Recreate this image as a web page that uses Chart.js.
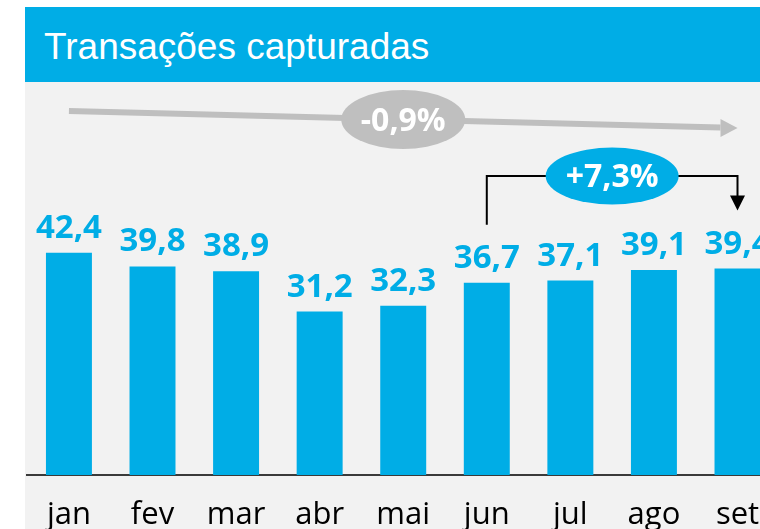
<!DOCTYPE html>
<html>
<head>
<meta charset="utf-8">
<script src="https://cdn.jsdelivr.net/npm/chart.js@4.4.0/dist/chart.umd.min.js"></script>
<style>
  body { margin: 0; background: #fff; width: 760px; height: 529px; overflow: hidden; position: relative; }
  .header { position: absolute; left: 25px; top: 7px; width: 735px; height: 75px; background: #00ade6; }
  .header h1 { margin: 0; position: absolute; left: 19px; top: 21px; line-height: 37px; font-size: 37px; font-weight: normal; color: #fff; font-family: "Liberation Sans", Arial, sans-serif; white-space: nowrap; }
  .plot { position: absolute; left: 25px; top: 82px; width: 735px; height: 447px; overflow: hidden; background: #f2f2f2; }
</style>
</head>
<body>
<div class="header"><h1>Transações capturadas</h1></div>
<div class="plot"><canvas id="bar-chart" width="756" height="447"></canvas></div>
<script>
const months = ["jan", "fev", "mar", "abr", "mai", "jun", "jul", "ago", "set"];
const transactions = [42.4, 39.8, 38.9, 31.2, 32.3, 36.7, 37.1, 39.1, 39.4];
const yMax = 75;

const trendLabel = "-0,9%";
const growthLabel = "+7,3%";
const growthFrom = 5; // jun
const growthTo = 8;   // set

const blue = "#00ade6";
const gray = "#bfbfbf";

function fmt(v) {
  return v.toFixed(1).replace(".", ",");
}

function ellipseLabel(ctx, cx, cy, rx, ry, fill, text) {
  ctx.fillStyle = fill;
  ctx.beginPath();
  ctx.ellipse(cx, cy, rx, ry, 0, 0, Math.PI * 2);
  ctx.fill();
  ctx.fillStyle = "#fff";
  ctx.font = "bold 32px 'Open Sans'";
  ctx.textAlign = "center";
  ctx.textBaseline = "alphabetic";
  ctx.fillText(text, cx, cy + 11);
}

const annotations = {
  id: "annotations",
  afterDatasetsDraw(chart) {
    const ctx = chart.ctx;
    const x = chart.scales.x;
    const y = chart.scales.y;
    const top = chart.chartArea.top;

    ctx.save();

    // value labels
    const meta = chart.getDatasetMeta(0);
    ctx.fillStyle = blue;
    ctx.font = "bold 33px 'Open Sans'";
    ctx.textAlign = "center";
    ctx.textBaseline = "alphabetic";
    meta.data.forEach((bar, i) => {
      ctx.fillText(fmt(transactions[i]), bar.x, bar.y - 15);
    });

    // overall trend arrow
    const x0 = x.getPixelForValue(0);
    const x1 = x.getPixelForValue(months.length - 1);
    const y0 = top + 29;
    const y1 = top + 46;
    const slope = (y1 - y0) / (x1 - x0);
    const headLen = 17;
    ctx.strokeStyle = gray;
    ctx.lineWidth = 6;
    ctx.beginPath();
    ctx.moveTo(x0, y0);
    ctx.lineTo(x1 - headLen, y0 + (x1 - headLen - x0) * slope);
    ctx.stroke();
    ctx.fillStyle = gray;
    ctx.beginPath();
    ctx.moveTo(x1, y1);
    ctx.lineTo(x1 - headLen, y1 - 9);
    ctx.lineTo(x1 - headLen, y1 + 9);
    ctx.closePath();
    ctx.fill();
    ellipseLabel(ctx, (x0 + x1) / 2, (y0 + y1) / 2, 62, 29.5, gray, trendLabel);

    // jun -> set bracket
    const xa = x.getPixelForValue(growthFrom);
    const xb = x.getPixelForValue(growthTo);
    const hy = top + 94;
    const ya = y.getPixelForValue(transactions[growthFrom]) - 58;
    const yb = y.getPixelForValue(transactions[growthTo]) - 58;
    ctx.strokeStyle = "#000";
    ctx.lineWidth = 2;
    ctx.beginPath();
    ctx.moveTo(xa, ya);
    ctx.lineTo(xa, hy);
    ctx.lineTo(xb, hy);
    ctx.lineTo(xb, yb - 14);
    ctx.stroke();
    ctx.fillStyle = "#000";
    ctx.beginPath();
    ctx.moveTo(xb, yb);
    ctx.lineTo(xb - 7.5, yb - 15);
    ctx.lineTo(xb + 7.5, yb - 15);
    ctx.closePath();
    ctx.fill();
    ellipseLabel(ctx, (xa + xb) / 2, hy, 66.5, 28.5, blue, growthLabel);

    ctx.restore();
  }
};

const config = {
  type: "bar",
  data: {
    labels: months,
    datasets: [
      {
        label: "Transações",
        data: transactions,
        backgroundColor: blue,
        borderWidth: 0,
        barPercentage: 0.55,
        categoryPercentage: 1
      }
    ]
  },
  options: {
    responsive: false,
    animation: false,
    layout: { padding: 0 },
    plugins: {
      legend: { display: false },
      title: { display: false },
      tooltip: { enabled: false }
    },
    scales: {
      x: {
        grid: { display: false, drawTicks: false },
        border: { display: true, color: "#3a3a3a", width: 2 },
        ticks: {
          color: "#000",
          padding: 22,
          font: { family: "'Open Sans'", size: 31 }
        },
        afterFit(scale) {
          scale.height = 54;
        }
      },
      y: {
        display: false,
        min: 0,
        max: yMax
      }
    }
  },
  plugins: [annotations]
};

let ctx = document.getElementById("bar-chart").getContext("2d");
window.myBar = new Chart(ctx, config);
</script>
</body>
</html>
